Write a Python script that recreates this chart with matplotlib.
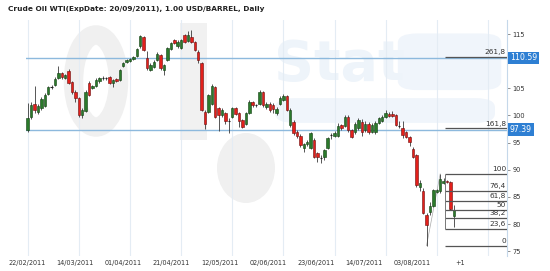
import matplotlib
matplotlib.use("Agg")
import matplotlib.pyplot as plt
from matplotlib.patches import FancyBboxPatch, Ellipse, Rectangle
import matplotlib.transforms as mtransforms

title = "Crude Oil WTI(ExpDate: 20/09/2011), 1.00 USD/BARREL, Daily"

opens = [97.3, 99.7, 102.2, 100.7, 101.4, 101.8, 104.0, 105.1, 105.6, 106.9,
         107.8, 106.9, 108.2, 106.2, 104.4, 103.2, 100.1, 100.9, 106.0, 105.0,
         105.4, 106.3, 106.8, 106.9, 107.1, 105.9, 106.7, 106.5, 109.1, 109.9,
         110.1, 110.4, 110.9, 112.7, 114.5, 110.5, 108.4, 109.0, 110.2, 111.1,
         108.4, 110.2, 112.2, 113.9, 112.7, 112.4, 114.8, 113.8, 114.5, 113.6,
         111.7, 109.6, 100.7, 100.7, 102.2, 105.2, 101.3, 100.1, 100.4, 98.9,
         99.8, 101.4, 100.4, 99.2, 98.5, 100.4, 102.5, 101.9, 102.2, 104.3,
         101.6, 102.2, 102.0, 100.4, 102.2, 102.8, 103.5, 98.2, 98.8, 97.0,
         96.3, 94.0, 94.7, 94.0, 95.5, 93.0, 92.2, 92.4, 94.1, 96.4,
         96.3, 96.3, 98.2, 98.1, 99.8, 97.3, 97.0, 97.6, 98.8, 97.3,
         98.4, 97.0, 97.0, 98.7, 99.0, 99.8, 100.3, 100.3, 100.1, 98.2,
         97.6, 97.0, 96.1, 93.9, 92.7, 86.8, 86.1, 81.7, 82.3, 83.4,
         85.9, 86.0, 87.6, 88.0, 87.8, 81.5]
highs = [102.3, 102.4, 105.4, 102.2, 103.4, 104.2, 105.5, 105.6, 107.0, 109.2,
         108.0, 107.7, 108.5, 106.4, 104.6, 103.4, 101.3, 104.7, 106.3, 105.6,
         106.9, 107.1, 107.2, 107.1, 107.3, 106.8, 106.9, 108.5, 109.8, 110.4,
         110.6, 111.0, 112.4, 114.8, 114.7, 111.8, 109.6, 110.2, 111.6, 111.4,
         109.5, 112.6, 113.5, 114.1, 113.9, 114.1, 115.0, 115.6, 115.7, 113.8,
         112.0, 109.8, 101.0, 104.0, 105.8, 105.4, 101.5, 101.3, 100.6, 99.6,
         101.6, 101.6, 100.6, 99.4, 100.6, 102.8, 102.7, 102.2, 104.6, 104.5,
         102.5, 102.4, 102.3, 101.5, 103.6, 103.9, 103.8, 101.3, 99.2, 97.3,
         96.5, 95.0, 95.5, 97.0, 95.8, 93.2, 92.7, 93.9, 96.1, 96.8,
         97.1, 98.6, 98.4, 100.0, 100.0, 97.5, 98.8, 99.5, 99.4, 99.0,
         98.8, 98.7, 99.0, 99.8, 100.0, 101.0, 100.6, 100.9, 100.3, 99.0,
         99.0, 97.2, 96.3, 94.2, 92.9, 88.1, 86.6, 82.0, 84.1, 86.5,
         86.5, 89.23, 88.4, 88.2, 88.0, 83.6]
lows = [97.0, 99.3, 100.5, 100.2, 101.0, 101.5, 103.7, 104.8, 105.4, 106.7,
        106.8, 106.7, 105.8, 104.0, 102.5, 99.8, 99.6, 100.7, 103.6, 104.8,
        105.2, 106.0, 106.6, 106.6, 105.8, 105.2, 106.1, 106.3, 108.9, 109.7,
        109.9, 110.2, 110.7, 112.5, 111.9, 108.3, 108.1, 108.8, 110.0, 108.4,
        107.5, 110.0, 112.0, 113.1, 112.5, 112.2, 113.4, 113.6, 113.4, 111.9,
        109.6, 100.8, 97.5, 100.5, 102.0, 99.6, 97.2, 99.8, 98.4, 96.7,
        99.5, 100.0, 97.9, 97.7, 98.3, 100.2, 101.6, 101.6, 102.0, 101.6,
        101.2, 100.7, 100.4, 100.0, 102.0, 102.6, 100.8, 97.9, 96.4, 95.8,
        94.2, 93.2, 94.4, 93.8, 92.1, 91.4, 91.3, 91.8, 93.9, 95.6,
        96.0, 96.1, 97.4, 97.9, 96.9, 95.9, 96.6, 97.4, 96.2, 97.0,
        96.5, 96.8, 96.5, 98.4, 98.8, 99.6, 99.7, 99.7, 98.0, 97.6,
        95.8, 95.9, 94.3, 92.1, 86.9, 86.0, 81.8, 76.03, 81.7, 83.2,
        85.7, 85.8, 87.3, 87.5, 82.5, 79.4]
closes = [99.5, 101.9, 101.0, 101.7, 103.0, 103.8, 105.2, 105.2, 106.8, 107.9,
          107.0, 107.5, 106.0, 104.4, 103.2, 100.1, 101.0, 104.4, 103.8, 105.4,
          106.6, 106.9, 106.9, 106.8, 106.0, 106.6, 106.3, 108.3, 109.6, 110.2,
          110.4, 110.8, 112.2, 114.6, 112.1, 108.7, 109.3, 109.9, 111.4, 108.7,
          109.3, 112.4, 113.3, 113.3, 113.6, 113.9, 113.6, 114.8, 113.6, 112.1,
          110.2, 101.0, 98.5, 103.8, 105.4, 99.8, 100.1, 101.0, 98.9, 99.0,
          101.4, 100.2, 98.9, 97.9, 100.4, 102.5, 101.9, 101.9, 104.3, 101.9,
          102.2, 101.0, 101.2, 101.2, 103.3, 103.5, 101.0, 101.0, 96.7, 96.2,
          94.6, 94.8, 95.2, 96.7, 92.4, 92.4, 92.1, 93.6, 95.9, 96.5,
          96.8, 98.1, 97.6, 99.8, 97.3, 96.1, 98.5, 99.1, 97.0, 98.4,
          97.0, 98.2, 98.7, 99.5, 99.7, 100.5, 99.9, 99.9, 98.2, 98.1,
          96.4, 96.1, 95.2, 92.4, 87.2, 87.5, 82.0, 79.8, 83.4, 86.3,
          86.2, 88.3, 88.0, 87.7, 82.8, 82.6]

date_labels = ["22/02/2011", "14/03/2011", "01/04/2011", "21/04/2011", "12/05/2011",
               "02/06/2011", "23/06/2011", "14/07/2011", "03/08/2011", "+1"]
date_pos = [-0.2, 13.9, 28.0, 42.1, 56.3, 70.4, 84.5, 98.6, 112.7, 126.8]
grid_pos = [0, 15, 30, 45, 60, 75, 90, 105, 120, 135]

y_ticks = [75, 80, 85, 90, 95, 100, 105, 115]

fib_low = 76.03
fib_high = 89.23
fib_low_idx = 117
fib_high_idx = 121
fib_levels = [0.0, 23.6, 38.2, 50.0, 61.8, 76.4, 100.0]
fib_labels = ["0", "23,6", "38,2", "50", "61,8", "76,4", "100"]
ext_levels = [161.8, 261.8]
ext_labels = ["161,8", "261,8"]
ext_values = ["97.39", "110.59"]

fig = plt.figure(figsize=(5.5, 2.71), dpi=100)
ax = fig.add_axes([26/550, 15/271, 481/550, 236/271])
ax.set_xlim(-0.5, 140.6)
ax.set_ylim(74.12, 117.58)

# faint logo watermark
def ax_x(px):
    return (px - 26) / 481
def ax_y(py):
    return (256 - py) / 236

ax.add_patch(Ellipse((ax_x(96), ax_y(81)), (65 - 20) / 481, (112 - 20) / 236,
             transform=ax.transAxes, facecolor="none", edgecolor="#f0f0f0",
             linewidth=14, zorder=0))
ax.add_patch(Rectangle((ax_x(180), ax_y(140)), 27 / 481, 117 / 236,
             transform=ax.transAxes, facecolor="#f1f1f1", edgecolor="none", zorder=0))
ax.add_patch(Ellipse((ax_x(246), ax_y(168)), 58 / 481, 70 / 236,
             transform=ax.transAxes, facecolor="#f0f0f0", edgecolor="none", zorder=0))
ax.add_patch(FancyBboxPatch((0.518, 0.564), 0.457, 0.105, transform=ax.transAxes,
             boxstyle="round,pad=0,rounding_size=0.04", facecolor="#f0f5fb",
             edgecolor="none", zorder=0))
ax.add_patch(FancyBboxPatch((0.773, 0.703), 0.215, 0.24, transform=ax.transAxes,
             boxstyle="round,pad=0,rounding_size=0.04", facecolor="#f0f5fb",
             edgecolor="none", zorder=0))
ax.text(0.515, 0.81, "Stat", transform=ax.transAxes, fontsize=40, color="#eef4fa",
        weight="bold", zorder=0, va="center", ha="left")

for g in grid_pos:
    ax.axvline(g, color="#e4ecf4", lw=0.8, zorder=1)

# candles
xs = list(range(len(closes)))
for i in xs:
    o, h, l, c = opens[i], highs[i], lows[i], closes[i]
    ax.vlines(i, l, h, color="#3a3a3a", lw=0.6, zorder=3)
    if abs(c - o) < 0.15:
        ax.hlines((o + c) / 2, i - 0.35, i + 0.35, color="#222222", lw=0.8, zorder=4)
        continue
    up = c > o
    ax.bar(i, abs(c - o), bottom=min(o, c), width=0.72,
           color="#2b7a2b" if up else "#e3201b",
           edgecolor="#123d12" if up else "#6a0d0d", linewidth=0.4, zorder=4)

# fib extension lines
rng = fib_high - fib_low
x0 = 122.5
tr = mtransforms.blended_transform_factory(ax.transAxes, ax.transData)
for lev, lab, val in zip(ext_levels, ext_labels, ext_values):
    y = fib_low + lev / 100 * rng
    ax.axhline(y, color="#8db9dd", lw=1.0, zorder=2)
    ax.hlines(y + 0.25, x0, 140.6, color="#555555", lw=0.9, zorder=5)
    ax.text(140.3, y + 0.5, lab, fontsize=5.3, color="#333333", ha="right", va="bottom", zorder=6)
    ax.text(1.006, y, val, transform=tr, fontsize=5.6, color="white", ha="left",
            va="center", zorder=7, clip_on=False,
            bbox=dict(boxstyle="square,pad=0.25", facecolor="#2e7fd3", edgecolor="none"))

# retracement lines
for lev, lab in zip(fib_levels, fib_labels):
    y = fib_low + lev / 100 * rng
    ax.hlines(y, x0, 140.6, color="#555555", lw=0.9, zorder=5)
    ax.text(140.3, y + 0.35, lab, fontsize=5.3, color="#333333", ha="right", va="bottom", zorder=6)
ax.vlines(x0, fib_low + 0.236 * rng, fib_high, color="#777777", lw=0.7, zorder=5)
ax.plot([fib_low_idx, fib_high_idx], [fib_low, fib_high], color="#aaaaaa", lw=0.5, zorder=2)

# axes styling
for s in ["top", "left", "bottom"]:
    ax.spines[s].set_visible(False)
ax.spines["right"].set_color("#c5d8ea")
ax.spines["right"].set_linewidth(0.8)
ax.yaxis.tick_right()
ax.set_yticks(y_ticks)
ax.set_yticklabels([str(t) for t in y_ticks])
ax.tick_params(axis="y", length=2, width=0.5, color="#666666", pad=2,
               labelsize=4.8, labelcolor="#333333")
ax.set_xticks(date_pos)
ax.set_xticklabels(date_labels)
ax.tick_params(axis="x", length=0, pad=3, labelsize=4.7, labelcolor="#333333")

fig.text(8/550, 1 - 9/271, title, fontsize=5.35, weight="bold", color="#222222",
         ha="left", va="center")

fig.savefig("out.png", dpi=100)
